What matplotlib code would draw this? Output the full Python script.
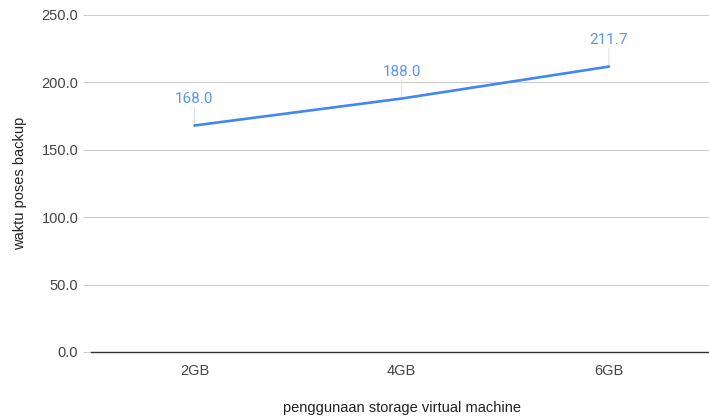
import matplotlib.pyplot as plt
import numpy as np

plt.rcParams['font.family'] = ['Liberation Sans', 'DejaVu Sans']

# storage usage vs backup time
categories = ['2GB', '4GB', '6GB']
waktu = [168.0, 188.0, 211.7]
yticks = [0, 50, 100, 150, 200, 250]

fig = plt.figure(figsize=(7.09, 4.16), dpi=100)
ax = fig.add_axes([0.128, 0.154, 0.877, 0.810])

x = np.arange(len(categories))
ax.plot(x, waktu, color='#4285F4', linewidth=1.9, solid_capstyle='round', zorder=3)

# value labels with short leader lines
for xi, v in zip(x, waktu):
    ax.annotate('', xy=(xi, v), xytext=(0, 13), textcoords='offset points',
                arrowprops=dict(arrowstyle='-', color='#e0e0e0', lw=0.8,
                                shrinkA=0, shrinkB=0), zorder=2)
    ax.annotate('%.1f' % v, xy=(xi, v), xytext=(0, 19), textcoords='offset points',
                ha='center', va='center', color='#5b95f5', fontsize=11,
                family=['Roboto', 'DejaVu Sans'])

ax.set_xlim(-0.5, 2.5)
ax.set_ylim(0, 250)
ax.set_xticks(x)
ax.set_xticklabels(categories)
ax.set_yticks(yticks)
ax.set_yticklabels(['%.1f' % t for t in yticks])

ax.grid(axis='y', color='#cccccc', linewidth=0.8)
ax.set_axisbelow(True)
for s in ['top', 'right', 'left']:
    ax.spines[s].set_visible(False)
ax.spines['bottom'].set_color('#333333')
ax.spines['bottom'].set_linewidth(1.0)

ax.tick_params(axis='y', length=6, color='#cccccc', width=0.8, labelsize=10.5,
               labelcolor='#444444', pad=3)
ax.tick_params(axis='x', length=0, labelsize=10.5, labelcolor='#444444', pad=9)

ax.set_xlabel('penggunaan storage virtual machine', fontsize=10.5, color='#222222', labelpad=16)
ax.set_ylabel('waktu poses backup', fontsize=10.5, color='#222222', labelpad=10)

fig.savefig('out.png', dpi=100)
